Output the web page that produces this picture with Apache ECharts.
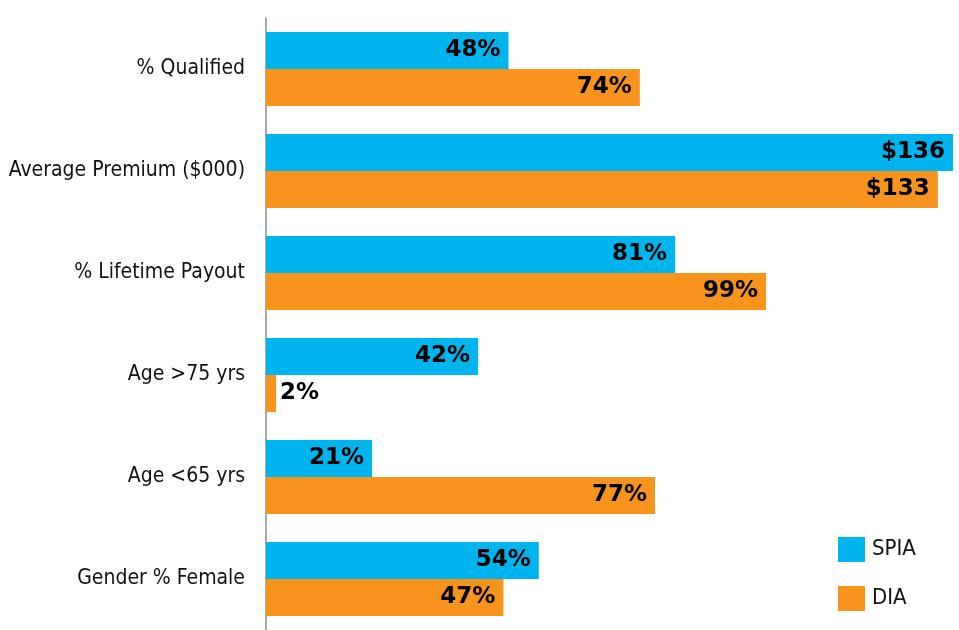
<!DOCTYPE html>
<html>
<head>
<meta charset="utf-8">
<script src="https://cdn.jsdelivr.net/npm/echarts@6/dist/echarts.min.js"></script>
<style>
html,body{margin:0;padding:0;background:#fff;}
#chart{width:959px;height:630px;}
</style>
</head>
<body>
<div id="chart"></div>
<script>
// categories from top to bottom
var categories = ['% Qualified', 'Average Premium ($000)', '% Lifetime Payout', 'Age >75 yrs', 'Age <65 yrs', 'Gender % Female'];
var spiaValues = [48, 136, 81, 42, 21, 54];
var diaValues = [74, 133, 99, 2, 77, 47];
var valueLabels = {
    spia: ['48%', '$136', '81%', '42%', '21%', '54%'],
    dia: ['74%', '$133', '99%', '2%', '77%', '47%']
};

function buildData(values, texts){
    var arr = [];
    for(var i=0;i<values.length;i++){
        var item = {value: values[i], labelText: texts[i]};
        // tiny bar: put label outside
        if(values[i] < 10){
            item.label = {position: 'right', distance: 4};
        }
        arr.push(item);
    }
    return arr;
}

var catFont = '"DejaVu Sans Condensed", "Roboto Condensed", "Noto Sans", sans-serif';
var myChart = echarts.init(document.getElementById('chart'));
var labelStyle = {
    show: true,
    position: 'insideRight',
    distance: 8,
    color: '#000',
    fontFamily: 'DejaVu Sans',
    fontWeight: 'bold',
    fontSize: 23,
    formatter: function(p){ return p.data.labelText; }
};
var option = {
    backgroundColor: '#fff',
    animation: false,
    color: ['#00b5ee', '#f7941e'],
    legend: {
        orient: 'vertical',
        left: 833,
        top: 532,
        itemWidth: 27,
        itemHeight: 25,
        itemGap: 24,
        icon: 'rect',
        textStyle: {fontFamily: catFont, fontSize: 22, color: '#111', padding: [0,0,0,2]},
        data: ['SPIA', 'DIA']
    },
    grid: {
        left: 266,
        right: 6,
        top: 18,
        bottom: 0
    },
    xAxis: {
        type: 'value',
        min: 0,
        max: 136,
        show: false
    },
    yAxis: {
        type: 'category',
        inverse: true,
        data: categories,
        axisLine: {show: true, lineStyle: {color: '#8c8c8c', width: 1.5}},
        axisTick: {show: false},
        axisLabel: {
            margin: 21,
            color: '#111',
            fontFamily: catFont,
            fontSize: 21
        }
    },
    series: [
        {
            name: 'SPIA',
            type: 'bar',
            barWidth: 37,
            barGap: '0%',
            data: buildData(spiaValues, valueLabels.spia),
            label: labelStyle
        },
        {
            name: 'DIA',
            type: 'bar',
            barWidth: 37,
            barGap: '0%',
            data: buildData(diaValues, valueLabels.dia),
            label: labelStyle
        }
    ]
};
myChart.setOption(option);
</script>
</body>
</html>
